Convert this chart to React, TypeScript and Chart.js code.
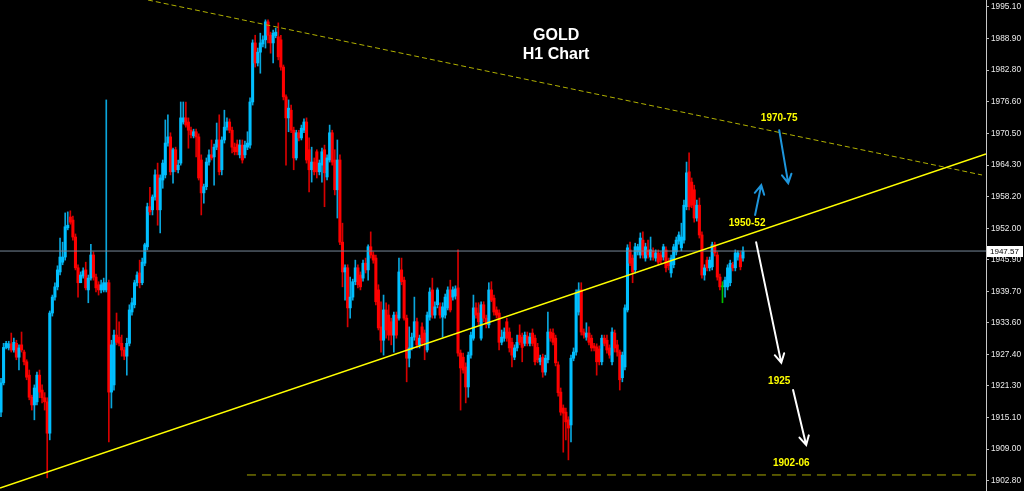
import React, { useEffect, useRef } from "react";
import { Chart, registerables } from "chart.js";

Chart.register(...registerables);

// ---- H1 candles (index 0 = oldest) ----
const opens = [
  1916.2, 1921.9, 1928.8, 1928.7, 1929.5, 1928.3, 1929.6, 1926.9, 1929.3, 1927.9,
  1926.0, 1923.4, 1919.1, 1917.6, 1918.2, 1923.4, 1920.5, 1919.0, 1918.2, 1912.1,
  1935.5, 1938.6, 1940.6, 1943.5, 1945.4, 1946.4, 1952.1, 1954.2, 1953.6, 1950.3,
  1944.3, 1941.4, 1942.7, 1943.9, 1940.0, 1942.3, 1946.8, 1942.5, 1941.0, 1940.0,
  1940.0, 1940.0, 1941.4, 1920.1, 1921.5, 1931.2, 1930.8, 1929.6, 1928.3, 1927.1,
  1929.6, 1935.7, 1937.1, 1941.4, 1943.3, 1941.4, 1945.2, 1948.4, 1956.2, 1955.6,
  1958.1, 1962.4, 1955.6, 1961.4, 1962.4, 1968.6, 1969.8, 1963.0, 1967.3, 1963.4,
  1964.7, 1972.7, 1973.5, 1972.7, 1971.1, 1970.0, 1970.8, 1969.8, 1965.3, 1958.9,
  1960.1, 1964.9, 1966.3, 1965.9, 1967.8, 1969.2, 1963.4, 1969.2, 1971.7, 1972.7,
  1971.1, 1967.8, 1968.4, 1966.3, 1968.2, 1966.3, 1967.8, 1968.2, 1976.6, 1988.1,
  1984.2, 1986.3, 1987.9, 1988.7, 1992.2, 1989.6, 1988.1, 1989.5, 1989.3, 1988.7,
  1983.4, 1977.6, 1973.5, 1975.0, 1971.1, 1965.7, 1970.6, 1969.6, 1971.1, 1972.7,
  1967.3, 1963.4, 1964.9, 1966.9, 1963.0, 1964.3, 1967.3, 1962.0, 1965.3, 1970.6,
  1965.3, 1959.5, 1965.3, 1949.3, 1943.5, 1944.3, 1936.5, 1938.6, 1941.6, 1944.3,
  1942.9, 1942.3, 1945.2, 1943.9, 1948.4, 1946.8, 1946.2, 1940.0, 1932.8, 1930.2,
  1936.1, 1935.1, 1933.8, 1931.2, 1935.1, 1934.5, 1943.9, 1941.9, 1934.5, 1926.7,
  1928.7, 1930.8, 1933.8, 1929.3, 1932.8, 1931.6, 1928.3, 1934.7, 1940.0, 1935.1,
  1937.1, 1936.7, 1934.7, 1935.1, 1936.5, 1940.0, 1938.6, 1938.8, 1940.4, 1927.7,
  1926.9, 1925.0, 1921.1, 1927.3, 1930.6, 1936.5, 1935.5, 1930.6, 1937.1, 1934.5,
  1933.2, 1940.0, 1938.4, 1936.1, 1935.5, 1929.8, 1930.6, 1933.8, 1931.8, 1929.8,
  1926.9, 1928.7, 1931.2, 1930.8, 1929.6, 1931.0, 1929.6, 1931.6, 1930.6, 1928.8,
  1926.0, 1926.9, 1924.0, 1926.4, 1931.8, 1931.6, 1930.6, 1925.4, 1920.1, 1917.0,
  1916.2, 1914.7, 1913.7, 1926.7, 1927.9, 1935.7, 1940.0, 1931.8, 1930.8, 1931.6,
  1930.6, 1929.1, 1928.9, 1928.5, 1926.0, 1930.6, 1930.2, 1928.7, 1926.0, 1931.6,
  1929.3, 1927.9, 1922.9, 1925.0, 1936.1, 1947.8, 1946.2, 1943.9, 1947.4, 1946.8,
  1949.7, 1946.2, 1947.8, 1946.4, 1947.6, 1946.2, 1947.2, 1946.8, 1946.4, 1947.8,
  1945.4, 1943.3, 1944.9, 1947.4, 1949.5, 1948.2, 1949.7, 1956.2, 1963.0, 1961.0,
  1959.5, 1954.0, 1956.5, 1950.7, 1942.9, 1945.8, 1944.3, 1944.5, 1948.8, 1946.8,
  1942.5, 1940.6, 1940.6, 1940.6, 1941.4, 1944.9, 1944.3, 1946.4, 1946.8, 1946.2,
];

const highs = [
  1922.8, 1929.6, 1930.0, 1930.0, 1931.6, 1930.6, 1930.2, 1929.3, 1931.8, 1928.3,
  1926.4, 1924.4, 1919.5, 1921.5, 1924.0, 1924.4, 1921.5, 1920.0, 1919.0, 1935.9,
  1939.0, 1941.4, 1944.7, 1950.1, 1949.3, 1955.0, 1955.2, 1955.4, 1954.4, 1950.9,
  1944.9, 1943.5, 1944.3, 1945.4, 1942.9, 1948.9, 1947.4, 1943.1, 1941.6, 1941.9,
  1942.3, 1977.0, 1941.9, 1930.2, 1932.2, 1935.5, 1933.8, 1931.2, 1928.8, 1930.6,
  1937.1, 1938.4, 1941.9, 1943.5, 1945.8, 1946.2, 1949.1, 1956.9, 1960.0, 1958.5,
  1963.4, 1964.7, 1962.4, 1965.3, 1973.1, 1974.1, 1970.6, 1967.6, 1967.8, 1965.3,
  1976.6, 1976.6, 1976.6, 1973.5, 1971.7, 1971.3, 1971.3, 1970.4, 1966.3, 1960.6,
  1965.7, 1967.3, 1969.2, 1968.4, 1972.5, 1974.1, 1969.8, 1975.0, 1973.5, 1973.3,
  1971.7, 1968.6, 1969.2, 1969.2, 1969.2, 1969.0, 1970.8, 1977.4, 1988.7, 1989.6,
  1987.1, 1990.0, 1989.5, 1992.6, 1992.6, 1990.2, 1990.6, 1991.0, 1992.0, 1989.6,
  1983.8, 1978.0, 1977.0, 1976.0, 1971.7, 1971.1, 1971.1, 1972.1, 1973.3, 1973.5,
  1969.6, 1967.8, 1965.7, 1967.3, 1965.3, 1967.6, 1968.2, 1966.3, 1972.1, 1971.1,
  1967.3, 1969.2, 1966.3, 1953.0, 1944.9, 1944.9, 1942.5, 1942.1, 1945.8, 1944.9,
  1943.5, 1945.8, 1946.2, 1948.8, 1951.3, 1947.4, 1946.8, 1941.0, 1937.7, 1939.0,
  1937.5, 1937.1, 1934.5, 1935.7, 1935.7, 1946.2, 1946.2, 1942.5, 1935.1, 1932.8,
  1931.6, 1938.6, 1934.5, 1931.2, 1933.6, 1932.2, 1935.7, 1940.4, 1942.3, 1937.7,
  1940.4, 1937.5, 1937.5, 1939.2, 1940.6, 1941.9, 1940.6, 1940.8, 1947.8, 1928.3,
  1927.7, 1925.8, 1927.9, 1931.8, 1939.0, 1937.5, 1937.5, 1937.7, 1937.7, 1935.1,
  1941.4, 1941.6, 1939.0, 1936.7, 1936.1, 1932.2, 1932.6, 1934.5, 1932.6, 1930.6,
  1929.3, 1931.2, 1933.2, 1931.6, 1931.8, 1931.8, 1931.6, 1932.4, 1931.2, 1929.6,
  1927.3, 1927.5, 1927.3, 1935.7, 1932.4, 1932.4, 1931.2, 1926.0, 1920.9, 1917.6,
  1917.0, 1915.3, 1927.3, 1928.7, 1940.0, 1941.4, 1941.4, 1932.4, 1933.6, 1932.8,
  1931.2, 1929.6, 1929.5, 1929.1, 1931.2, 1931.2, 1931.2, 1929.3, 1932.6, 1932.2,
  1930.2, 1928.3, 1927.9, 1937.1, 1948.8, 1949.3, 1946.8, 1949.1, 1948.9, 1951.1,
  1951.3, 1949.1, 1949.7, 1950.3, 1948.2, 1947.8, 1947.8, 1947.4, 1948.9, 1948.4,
  1946.2, 1946.8, 1948.9, 1950.3, 1951.3, 1953.0, 1957.5, 1964.9, 1966.7, 1961.8,
  1960.4, 1957.5, 1957.9, 1951.3, 1944.9, 1946.4, 1946.4, 1949.3, 1949.3, 1947.4,
  1943.1, 1941.6, 1942.5, 1944.9, 1945.8, 1945.4, 1947.8, 1947.6, 1947.4, 1948.4,
];

const lows = [
  1915.3, 1921.5, 1928.5, 1928.3, 1927.9, 1927.9, 1926.4, 1924.4, 1927.9, 1925.4,
  1922.5, 1918.6, 1916.6, 1914.7, 1917.6, 1919.0, 1918.0, 1916.6, 1903.4, 1910.8,
  1934.9, 1938.0, 1940.0, 1942.9, 1944.9, 1945.8, 1951.7, 1952.8, 1949.7, 1943.9,
  1938.6, 1941.8, 1942.3, 1940.0, 1937.5, 1941.9, 1941.9, 1939.6, 1939.0, 1939.4,
  1939.6, 1939.6, 1910.4, 1917.0, 1920.5, 1929.3, 1929.1, 1927.1, 1926.4, 1923.4,
  1929.1, 1935.1, 1936.5, 1940.8, 1940.4, 1941.0, 1944.7, 1947.8, 1954.6, 1954.6,
  1957.5, 1952.6, 1951.1, 1959.8, 1961.8, 1968.0, 1962.4, 1960.8, 1963.0, 1962.8,
  1964.3, 1972.3, 1971.7, 1967.6, 1969.6, 1969.6, 1965.9, 1961.4, 1954.6, 1956.9,
  1959.5, 1964.3, 1965.3, 1960.4, 1967.3, 1962.4, 1962.4, 1968.6, 1971.1, 1970.6,
  1966.7, 1966.3, 1966.3, 1965.7, 1964.7, 1965.7, 1967.3, 1967.6, 1976.0, 1983.4,
  1983.6, 1982.2, 1987.3, 1987.1, 1988.1, 1986.1, 1984.2, 1989.1, 1984.8, 1982.8,
  1977.0, 1964.3, 1970.8, 1970.6, 1963.4, 1965.3, 1969.0, 1969.2, 1970.6, 1964.7,
  1959.1, 1961.0, 1962.4, 1961.8, 1962.4, 1961.0, 1956.2, 1961.4, 1964.9, 1964.3,
  1958.5, 1954.0, 1948.8, 1940.6, 1938.0, 1932.8, 1934.5, 1938.0, 1941.0, 1940.4,
  1940.0, 1941.7, 1943.3, 1941.9, 1946.2, 1945.2, 1937.1, 1932.2, 1927.9, 1927.3,
  1930.6, 1930.2, 1929.3, 1927.9, 1930.6, 1934.1, 1941.0, 1934.1, 1922.1, 1925.0,
  1928.3, 1930.2, 1928.7, 1928.7, 1929.1, 1926.4, 1927.9, 1934.1, 1934.5, 1934.5,
  1936.5, 1934.5, 1930.8, 1934.5, 1936.1, 1935.7, 1938.0, 1938.2, 1927.1, 1916.6,
  1923.8, 1918.0, 1919.1, 1926.7, 1930.2, 1934.5, 1933.2, 1930.2, 1933.8, 1932.6,
  1932.6, 1937.7, 1935.1, 1934.5, 1928.3, 1929.3, 1930.0, 1930.0, 1927.9, 1925.0,
  1926.4, 1928.1, 1929.3, 1926.0, 1929.1, 1929.1, 1929.1, 1929.1, 1925.4, 1925.8,
  1925.4, 1923.0, 1923.4, 1925.8, 1930.0, 1929.3, 1925.2, 1919.3, 1915.6, 1908.4,
  1910.8, 1906.9, 1910.4, 1926.2, 1927.3, 1935.1, 1931.2, 1930.6, 1930.2, 1929.3,
  1928.1, 1928.1, 1923.4, 1925.4, 1925.4, 1929.1, 1927.7, 1926.7, 1925.4, 1927.9,
  1927.1, 1920.5, 1922.1, 1924.4, 1935.7, 1944.7, 1941.4, 1943.3, 1946.8, 1946.2,
  1946.2, 1945.6, 1946.2, 1945.8, 1945.8, 1945.6, 1944.9, 1945.2, 1945.8, 1943.5,
  1943.9, 1942.5, 1944.3, 1946.8, 1948.9, 1947.6, 1949.1, 1955.6, 1955.6, 1956.0,
  1953.2, 1953.4, 1950.1, 1942.3, 1941.9, 1943.7, 1943.7, 1943.9, 1946.6, 1941.9,
  1940.0, 1937.5, 1938.6, 1940.0, 1940.8, 1943.7, 1943.7, 1945.8, 1943.9, 1945.6,
];

const closes = [
  1921.9, 1928.8, 1929.6, 1929.5, 1928.3, 1929.8, 1926.9, 1928.7, 1928.3, 1926.0,
  1923.0, 1919.1, 1917.6, 1920.9, 1923.4, 1920.1, 1919.0, 1918.2, 1912.1, 1935.5,
  1938.6, 1940.6, 1943.9, 1946.4, 1946.4, 1952.3, 1952.6, 1953.2, 1950.3, 1944.3,
  1941.4, 1942.9, 1943.7, 1940.4, 1942.3, 1946.8, 1942.5, 1940.4, 1940.0, 1941.0,
  1941.4, 1941.4, 1920.1, 1929.3, 1931.2, 1929.8, 1929.6, 1928.3, 1927.1, 1929.6,
  1936.1, 1937.5, 1941.4, 1942.9, 1941.4, 1945.4, 1948.8, 1956.2, 1955.2, 1958.1,
  1962.4, 1955.6, 1961.8, 1964.7, 1968.6, 1969.8, 1963.0, 1967.3, 1963.4, 1964.3,
  1973.5, 1973.5, 1972.1, 1971.1, 1970.2, 1970.8, 1969.8, 1961.8, 1958.9, 1960.1,
  1964.9, 1966.3, 1965.7, 1967.8, 1969.2, 1963.0, 1969.2, 1971.7, 1972.7, 1971.1,
  1967.8, 1966.9, 1966.9, 1968.2, 1965.3, 1968.2, 1968.6, 1976.6, 1988.1, 1984.2,
  1986.3, 1988.1, 1988.7, 1992.2, 1989.6, 1988.1, 1990.0, 1990.2, 1985.4, 1983.4,
  1977.6, 1973.5, 1975.4, 1971.1, 1965.7, 1970.6, 1969.6, 1971.5, 1972.7, 1965.3,
  1963.4, 1964.9, 1963.0, 1963.0, 1964.7, 1966.9, 1962.8, 1965.7, 1970.6, 1964.9,
  1959.5, 1965.3, 1949.3, 1943.5, 1944.3, 1936.5, 1938.6, 1941.6, 1944.3, 1941.0,
  1940.6, 1945.2, 1943.9, 1948.4, 1946.8, 1945.8, 1937.7, 1932.6, 1930.2, 1936.1,
  1932.2, 1931.2, 1931.2, 1935.1, 1931.2, 1943.5, 1941.6, 1934.5, 1926.7, 1928.7,
  1930.8, 1933.8, 1929.3, 1930.6, 1929.6, 1929.8, 1935.1, 1939.6, 1935.1, 1936.7,
  1940.0, 1935.1, 1936.7, 1938.6, 1940.0, 1936.1, 1940.0, 1940.2, 1927.7, 1924.8,
  1924.4, 1921.1, 1927.3, 1931.2, 1936.5, 1935.1, 1933.8, 1937.1, 1934.5, 1933.6,
  1940.0, 1938.0, 1935.7, 1935.1, 1929.8, 1930.8, 1931.8, 1930.6, 1928.7, 1927.3,
  1928.7, 1929.8, 1929.8, 1928.8, 1931.2, 1929.6, 1930.8, 1929.6, 1926.0, 1926.4,
  1926.7, 1924.0, 1926.7, 1931.8, 1930.6, 1929.8, 1925.8, 1920.0, 1916.2, 1916.0,
  1914.3, 1913.1, 1926.7, 1927.9, 1939.4, 1940.0, 1931.8, 1931.2, 1931.6, 1929.8,
  1928.7, 1928.7, 1926.0, 1926.0, 1930.6, 1929.6, 1928.3, 1927.3, 1931.8, 1928.7,
  1927.9, 1922.5, 1927.3, 1936.5, 1948.2, 1945.2, 1943.5, 1948.4, 1948.4, 1950.1,
  1946.8, 1948.4, 1946.8, 1947.8, 1946.4, 1947.2, 1945.4, 1945.8, 1948.4, 1944.3,
  1944.7, 1946.2, 1948.4, 1949.7, 1950.7, 1950.3, 1956.5, 1962.8, 1956.2, 1956.5,
  1954.0, 1956.5, 1950.7, 1942.9, 1944.3, 1944.3, 1945.8, 1948.8, 1947.2, 1942.5,
  1940.6, 1940.6, 1941.9, 1944.3, 1945.2, 1944.3, 1947.2, 1947.2, 1944.5, 1947.57,
];

// ---- price axis ----
const priceTicks = [
  1995.1, 1988.9, 1982.8, 1976.6, 1970.5, 1964.3, 1958.2, 1952.0,
  1945.9, 1939.7, 1933.6, 1927.4, 1921.3, 1915.1, 1909.0, 1902.8,
];
const priceMin = 1900.84;
const priceMax = 1996.46;
const barMin = -0.39;
const barMax = 383.64;
const lastPrice = 1947.57;

// ---- drawn objects (bar index, price) ----
const supportLine = [
  { x: -0.39, y: 1901.43 },
  { x: 383.64, y: 1966.47 },
];
const resistanceLine = [
  { x: 57.25, y: 1996.46 },
  { x: 382.1, y: 1962.38 },
];
const targetLine = [
  { x: 95.8, y: 1903.96 },
  { x: 382.1, y: 1903.96 },
];
const arrows = [
  { from: [293.7, 1954.6], to: [296.1, 1960.4], color: "#1e96dc" },
  { from: [303.1, 1971.1], to: [306.6, 1960.8], color: "#1e96dc" },
  { from: [294.1, 1949.3], to: [303.9, 1925.8], color: "#ffffff" },
  { from: [308.5, 1920.5], to: [313.6, 1909.8], color: "#ffffff" },
];
const levelLabels = [
  { text: "1970-75", x: 303.1, y: 1973.5 },
  { text: "1950-52", x: 290.6, y: 1953.0 },
  { text: "1925", x: 303.1, y: 1922.3 },
  { text: "1902-06", x: 307.8, y: 1906.3 },
];
const titleLines = ["GOLD", "H1 Chart"];

const BULL = "#00bfff";
const BEAR = "#ff0000";
const DOJI = "#00c000";

export default function App() {
  const canvasRef = useRef<HTMLCanvasElement | null>(null);

  useEffect(() => {
    const canvas = canvasRef.current;
    if (!canvas) return;

    const n = closes.length;
    const idx = Array.from({ length: n }, (_, i) => i);
    const bodyColor = idx.map((i) =>
      closes[i] > opens[i] ? BULL : closes[i] < opens[i] ? BEAR : DOJI
    );
    const wickColor = idx.map((i) =>
      closes[i] > opens[i] ? "#0aa6dc" : closes[i] < opens[i] ? "#d80000" : DOJI
    );

    const overlay = {
      id: "overlay",
      afterDatasetsDraw(chart: any) {
        const ctx = chart.ctx;
        const xs = chart.scales.x;
        const ys = chart.scales.y;
        ctx.save();
        arrows.forEach((a) => {
          const x0 = xs.getPixelForValue(a.from[0]);
          const y0 = ys.getPixelForValue(a.from[1]);
          const x1 = xs.getPixelForValue(a.to[0]);
          const y1 = ys.getPixelForValue(a.to[1]);
          ctx.strokeStyle = a.color;
          ctx.lineWidth = 2;
          ctx.lineCap = "round";
          ctx.beginPath();
          ctx.moveTo(x0, y0);
          ctx.lineTo(x1, y1);
          const ang = Math.atan2(y1 - y0, x1 - x0);
          const len = 10;
          const spread = 0.5;
          ctx.moveTo(x1 - len * Math.cos(ang - spread), y1 - len * Math.sin(ang - spread));
          ctx.lineTo(x1, y1);
          ctx.lineTo(x1 - len * Math.cos(ang + spread), y1 - len * Math.sin(ang + spread));
          ctx.stroke();
        });
        ctx.fillStyle = "#ffff00";
        ctx.font = 'bold 10px "Liberation Sans", Arial, sans-serif';
        ctx.textAlign = "center";
        ctx.textBaseline = "middle";
        levelLabels.forEach((l) => {
          ctx.fillText(l.text, xs.getPixelForValue(l.x), ys.getPixelForValue(l.y));
        });
        const area = chart.chartArea;
        const cx = area.left + (area.right - area.left) * 0.564;
        ctx.fillStyle = "#ffffff";
        ctx.font = 'bold 16px "Liberation Sans", Arial, sans-serif';
        titleLines.forEach((t, i) => {
          ctx.fillText(t, cx, area.top + 36 + i * 19);
        });
        ctx.restore();
      },
      afterDraw(chart: any) {
        const ctx = chart.ctx;
        const ys = chart.scales.y;
        const y = ys.getPixelForValue(lastPrice);
        const left = ys.left + 1;
        ctx.save();
        ctx.fillStyle = "#ffffff";
        ctx.fillRect(left, Math.round(y) - 5, 36, 11);
        ctx.fillStyle = "#000000";
        ctx.font = '8px "Liberation Sans", Arial, sans-serif';
        ctx.textAlign = "left";
        ctx.textBaseline = "middle";
        ctx.fillText(lastPrice.toFixed(2), left + 3, Math.round(y) + 0.5);
        ctx.restore();
      },
    };

    const chart = new Chart(canvas, {
      type: "bar",
      data: {
        datasets: [
          {
            type: "line",
            data: supportLine,
            borderColor: "#ffff00",
            borderWidth: 1.6,
            pointRadius: 0,
            fill: false,
            order: 0,
          },
          {
            type: "line",
            data: resistanceLine,
            borderColor: "#b0b000",
            borderWidth: 1,
            borderDash: [5, 3],
            pointRadius: 0,
            fill: false,
            order: 0,
          },
          {
            type: "line",
            data: targetLine,
            borderColor: "#a8a800",
            borderWidth: 1,
            borderDash: [9, 6],
            pointRadius: 0,
            fill: false,
            order: 0,
          },
          {
            type: "line",
            data: [
              { x: barMin, y: lastPrice },
              { x: barMax, y: lastPrice },
            ],
            borderColor: "#778899",
            borderWidth: 1,
            pointRadius: 0,
            fill: false,
            order: 0,
          },
          {
            type: "bar",
            data: idx.map((i) => ({
              x: i,
              y: [Math.min(opens[i], closes[i]), Math.max(opens[i], closes[i])],
            })) as any,
            backgroundColor: bodyColor,
            borderWidth: 0,
            barThickness: 2.4,
            minBarLength: 1,
            grouped: false,
            order: 1,
          },
          {
            type: "bar",
            data: idx.map((i) => ({
              x: i,
              y: [
                Math.min(lows[i], opens[i], closes[i]),
                Math.max(highs[i], opens[i], closes[i]),
              ],
            })) as any,
            backgroundColor: wickColor,
            borderWidth: 0,
            barThickness: 1,
            grouped: false,
            order: 2,
          },
        ] as any,
      },
      options: {
        animation: false,
        responsive: false,
        maintainAspectRatio: false,
        events: [],
        layout: { padding: 0 },
        plugins: {
          legend: { display: false },
          tooltip: { enabled: false },
          title: { display: false },
        },
        scales: {
          x: {
            type: "linear",
            min: barMin,
            max: barMax,
            display: false,
            offset: false,
          },
          y: {
            type: "linear",
            position: "right",
            min: priceMin,
            max: priceMax,
            afterBuildTicks: (s: any) => {
              s.ticks = priceTicks.map((v) => ({ value: v }));
            },
            afterFit: (s: any) => {
              s.width = 38;
              s.paddingTop = 0;
              s.paddingBottom = 0;
            },
            grid: {
              drawOnChartArea: false,
              drawTicks: true,
              tickLength: 3,
              color: "#bdbdbd",
            },
            border: { display: true, color: "#c8c8c8", width: 1 },
            ticks: {
              color: "#ececec",
              autoSkip: false,
              maxRotation: 0,
              padding: 2,
              font: { family: '"Liberation Sans", Arial, sans-serif', size: 8.3 },
              callback: (v: any) => Number(v).toFixed(2),
            },
          },
        },
      } as any,
      plugins: [overlay],
    });

    return () => chart.destroy();
  }, []);

  return (
    <div
      style={{
        position: "fixed",
        left: 0,
        top: 0,
        width: 1024,
        height: 491,
        background: "#000000",
        overflow: "hidden",
      }}
    >
      <canvas ref={canvasRef} width={1024} height={491} style={{ display: "block" }} />
    </div>
  );
}
